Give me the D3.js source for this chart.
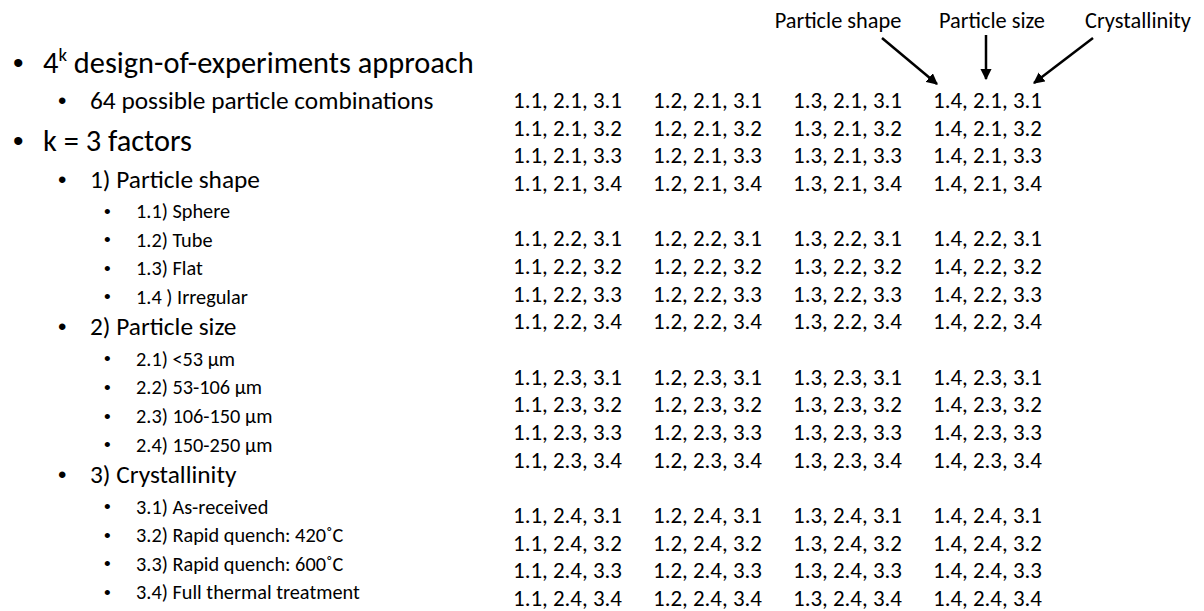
<!DOCTYPE html>
<html>
<head>
<meta charset="utf-8">
<script src="https://cdn.jsdelivr.net/npm/d3@7"></script>
<style>
  html, body { margin: 0; padding: 0; background: #fff; }
  svg { display: block; }
  text { font-family: Carlito, Calibri, Lato, "Open Sans", sans-serif; fill: #000; }
</style>
</head>
<body>
<svg id="chart" width="1204" height="611"></svg>
<script>
// ---- data ----
const shapes = ["1.1", "1.2", "1.3", "1.4"];
const sizes = ["2.1", "2.2", "2.3", "2.4"];
const crystallinity = ["3.1", "3.2", "3.3", "3.4"];

const outlineText = [
  "design-of-experiments approach",
  "64 possible particle combinations",
  "k = 3 factors",
  "1) Particle shape",
  "1.1) Sphere", "1.2) Tube", "1.3) Flat", "1.4 ) Irregular",
  "2) Particle size",
  "2.1) <53 μm", "2.2) 53-106 μm", "2.3) 106-150 μm", "2.4) 150-250 μm",
  "3) Crystallinity",
  "3.1) As-received", "3.2) Rapid quench: 420˚C", "3.3) Rapid quench: 600˚C", "3.4) Full thermal treatment"
];
const outlineLevel = [1, 2, 1, 2, 3, 3, 3, 3, 2, 3, 3, 3, 3, 2, 3, 3, 3, 3];
const factorLabels = ["Particle shape", "Particle size", "Crystallinity"];

// ---- layout ----
const svg = d3.select("#chart");

// fit a font size so that a sample string reaches a target width
function fitSize(sample, targetWidth) {
  const t = svg.append("text").style("font-size", "100px").text(sample);
  const w = t.node().getComputedTextLength();
  t.remove();
  return 100 * targetWidth / w;
}

const levelStyle = {
  1: { bulletX: 13, textX: 43, size: fitSize("k = 3 factors", 149), bullet: 30 },
  2: { bulletX: 58, textX: 90, size: fitSize("1) Particle shape", 170), bullet: 24 },
  3: { bulletX: 104, textX: 136, size: fitSize("3.4) Full thermal treatment", 224), bullet: 19 }
};
const gridSize = fitSize("1.1, 2.1, 3.1", 109);
const labelSize = fitSize("Particle size", 106);

const gap = { "1-2": 38.5, "2-1": 40, "2-3": 32, "3-3": 28.6, "3-2": 30 };
const ys = [];
outlineLevel.forEach((lv, i) => {
  if (i === 0) ys.push(62);
  else ys.push(ys[i - 1] + gap[outlineLevel[i - 1] + "-" + lv]);
});
const outline = outlineText.map((t, i) => ({ text: t, level: outlineLevel[i], y: ys[i] }));

const og = svg.append("g").attr("class", "outline");
const items = og.selectAll("g.item").data(outline).join("g").attr("class", "item");
items.append("text")
  .attr("x", d => levelStyle[d.level].bulletX)
  .attr("y", d => d.y)
  .attr("dominant-baseline", "central")
  .style("font-family", "Arial, 'Liberation Sans', sans-serif")
  .style("font-size", d => levelStyle[d.level].bullet + "px")
  .text("•");
items.append("text")
  .attr("x", d => levelStyle[d.level].textX)
  .attr("y", d => d.y)
  .attr("dominant-baseline", "central")
  .style("font-size", d => levelStyle[d.level].size + "px")
  .each(function (d, i) {
    const t = d3.select(this);
    if (i === 0) {
      t.append("tspan").text("4");
      t.append("tspan").attr("dy", "-0.42em").style("font-size", "62%").text("k");
      t.append("tspan").attr("dy", "0.26em").text(" " + d.text);
    } else {
      t.text(d.text);
    }
  });

// Grid of combinations
const rowIndex = [];
sizes.forEach((s, g) => crystallinity.forEach((c, k) => rowIndex.push({ size: s, cry: c, idx: g * 5 + k })));
const x = d3.scalePoint().domain(shapes).range([513, 933]);
const y = d3.scaleLinear().domain([0, 18]).range([100, 598]);

const cells = [];
shapes.forEach(sh => rowIndex.forEach(r => cells.push({ shape: sh, size: r.size, cry: r.cry, idx: r.idx })));

svg.append("g").attr("class", "grid")
  .selectAll("text").data(cells).join("text")
  .attr("x", d => x(d.shape))
  .attr("y", d => y(d.idx))
  .attr("dominant-baseline", "central")
  .style("font-size", gridSize + "px")
  .text(d => `${d.shape}, ${d.size}, ${d.cry}`);

// Factor annotations with arrows
const defs = svg.append("defs");
defs.append("marker")
  .attr("id", "ah")
  .attr("viewBox", "0 0 10 10")
  .attr("refX", 9).attr("refY", 5)
  .attr("markerWidth", 4.5).attr("markerHeight", 4.5)
  .attr("orient", "auto")
  .append("path").attr("d", "M0,0 L10,5 L0,10 Z").attr("fill", "#000");

const ann = factorLabels.map((lab, i) => ({ label: lab, i }));
const labelX = [838, 992, 1138];
const arrowFrom = [[882, 38], [986, 35], [1093, 38]];
const arrowTo = [[937, 84], [986, 79], [1034, 83]];

const ag = svg.append("g").attr("class", "annotations");
ag.selectAll("text").data(ann).join("text")
  .attr("x", d => labelX[d.i])
  .attr("y", 20)
  .attr("text-anchor", "middle")
  .attr("dominant-baseline", "central")
  .style("font-size", labelSize + "px")
  .text(d => d.label);
ag.selectAll("line").data(ann).join("line")
  .attr("x1", d => arrowFrom[d.i][0]).attr("y1", d => arrowFrom[d.i][1])
  .attr("x2", d => arrowTo[d.i][0]).attr("y2", d => arrowTo[d.i][1])
  .attr("stroke", "#000").attr("stroke-width", 2.5)
  .attr("marker-end", "url(#ah)");
</script>
</body>
</html>
